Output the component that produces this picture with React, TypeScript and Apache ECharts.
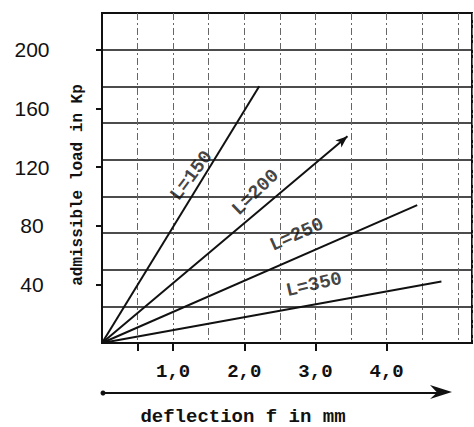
import React, { useEffect, useRef } from 'react';
import * as echarts from 'echarts';

// Series: straight load-deflection lines from the origin, [deflection mm, load Kp]
const seriesNames = ['L=150', 'L=200', 'L=250', 'L=350'];
const l150 = [[0, 0], [2.21, 175]];
const l200 = [[0, 0], [3.45, 141]];
const l250 = [[0, 0], [4.43, 94]];
const l350 = [[0, 0], [4.77, 42]];
const lineData = [l150, l200, l250, l350];

// Where the "L=..." captions sit (data coordinates) and their tilt
const labelAnchors = [[1.26, 114], [2.16, 102.6], [2.74, 73.7], [2.98, 39.6]];
const labelAngles = [53, 44, 24, 13];

// Axis ticks / labels
const yLabelValues = [40, 80, 120, 160, 200];
const xLabelValues = [1, 2, 3, 4];
const xTickValues = [0.5, 1, 2, 3, 4];
const xName = 'deflection f in mm';
const yName = 'admissible load in Kp';

const MONO = '"Liberation Mono", "DejaVu Sans Mono", monospace';
const SANS = '"Liberation Sans", Arial, sans-serif';
const INK = '#111';

export default function App() {
  const ref = useRef<HTMLDivElement>(null);
  useEffect(() => {
    if (!ref.current) return;
    const chart = echarts.init(ref.current, undefined, { renderer: 'svg' });
    const lineSeries = lineData.map((d, i) => ({
      type: 'line',
      name: seriesNames[i],
      xAxisIndex: 0,
      yAxisIndex: 0,
      symbol: 'none',
      data: d.map((p, j) =>
        i === 1 && j === d.length - 1
          ? { value: p, symbol: 'arrow', symbolSize: [7, 12], symbolRotate: -49.5, itemStyle: { color: INK } }
          : { value: p }
      ),
      lineStyle: { color: INK, width: 2 },
      itemStyle: { color: INK },
      silent: true,
      z: 3,
    }));
    const labelSeries = {
      type: 'scatter',
      xAxisIndex: 0,
      yAxisIndex: 0,
      symbol: 'circle',
      symbolSize: 1,
      itemStyle: { color: 'transparent' },
      silent: true,
      z: 4,
      data: labelAnchors.map((p, i) => ({
        value: p,
        label: {
          show: true,
          position: 'inside',
          formatter: seriesNames[i],
          rotate: labelAngles[i],
          fontFamily: MONO,
          fontWeight: 'bold',
          fontSize: 19,
          color: INK,
        },
      })),
    };
    chart.setOption({
      animation: false,
      backgroundColor: '#fff',
      grid: {
        left: 102,
        right: 2,
        top: 13,
        bottom: 84,
        outerBoundsMode: 'none',
        containLabel: false,
        show: true,
        borderColor: INK,
        borderWidth: 2,
        backgroundColor: 'transparent',
      },
      xAxis: [
        {
          type: 'value',
          min: 0,
          max: 5.2,
          interval: 0.5,
          position: 'bottom',
          name: xName,
          nameLocation: 'middle',
          nameGap: 64,
          nameMoveOverlap: false,
          nameTextStyle: {
            fontFamily: MONO,
            fontWeight: 'bold',
            fontSize: 19,
            lineHeight: 19,
            color: INK,
            padding: [0, 88, 0, 0],
          },
          axisLine: { show: true, lineStyle: { color: INK, width: 2 } },
          axisTick: { show: false },
          axisLabel: { show: false },
          splitLine: { show: true, lineStyle: { color: '#666', width: 1, type: [7, 3, 2, 3] } },
        },
        {
          type: 'value',
          min: 0,
          max: 5.2,
          position: 'bottom',
          axisLine: { show: false },
          axisTick: { show: true, length: 8, customValues: xTickValues, lineStyle: { color: INK, width: 2 } },
          axisLabel: {
            show: true,
            customValues: xLabelValues,
            margin: 19,
            fontFamily: MONO,
            fontWeight: 'bold',
            fontSize: 19,
            color: INK,
            formatter: (v: number) => v.toFixed(1).replace('.', ','),
          },
          splitLine: { show: false },
        },
      ],
      yAxis: [
        {
          type: 'value',
          min: 0,
          max: 225,
          interval: 25,
          position: 'left',
          name: yName,
          nameLocation: 'middle',
          nameGap: 16,
          nameMoveOverlap: false,
          nameRotate: 90,
          nameTextStyle: { fontFamily: MONO, fontWeight: 'bold', fontSize: 16, color: INK, padding: [0, 14, 0, 0] },
          axisLine: { show: true, lineStyle: { color: INK, width: 2 } },
          axisTick: { show: false },
          axisLabel: { show: false },
          splitLine: { show: true, lineStyle: { color: INK, width: 1.6 } },
        },
        {
          type: 'value',
          min: 0,
          max: 225,
          position: 'left',
          axisLine: { show: false },
          axisTick: { show: true, length: 6, customValues: yLabelValues, lineStyle: { color: INK, width: 2 } },
          axisLabel: {
            show: true,
            customValues: yLabelValues,
            margin: 70,
            align: 'center',
            fontFamily: SANS,
            fontSize: 21,
            color: INK,
          },
          splitLine: { show: false },
        },
      ],
      graphic: [
        {
          type: 'line',
          shape: { x1: 103, y1: 393, x2: 446, y2: 393 },
          style: { stroke: INK, lineWidth: 2 },
        },
        { type: 'circle', shape: { cx: 103, cy: 393, r: 2.5 }, style: { fill: INK } },
        {
          type: 'polygon',
          shape: { points: [[452, 392], [430, 385], [437, 392.5], [430, 399]] },
          style: { fill: INK },
        },
      ],
      series: [...lineSeries, labelSeries],
    });
    return () => chart.dispose();
  }, []);
  return (
    <div
      ref={ref}
      style={{ position: 'fixed', left: 0, top: 0, width: 474, height: 427, background: '#fff' }}
    />
  );
}
